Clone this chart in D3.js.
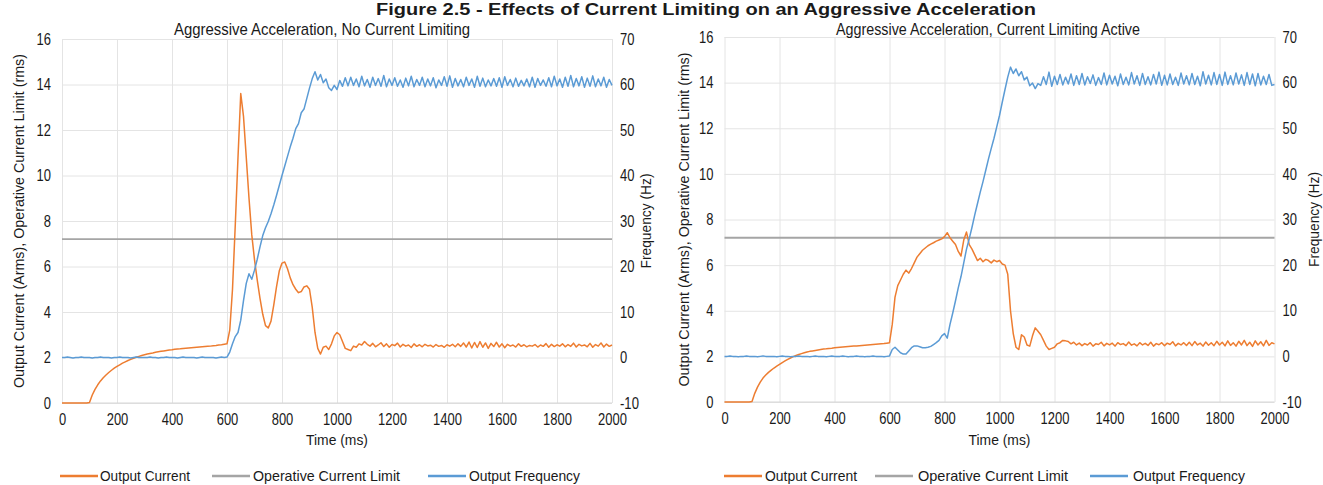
<!DOCTYPE html>
<html><head><meta charset="utf-8">
<script src="https://cdn.jsdelivr.net/npm/d3@7"></script>
<style>
body{margin:0;background:#fff;}
svg text{font-family:"Liberation Sans",Arial,sans-serif;fill:#1a1a1a;}
</style></head><body>
<svg id="chart" width="1323" height="485"></svg>
<script>
// ---------- DATA ----------
const figureTitle = "Figure 2.5 - Effects of Current Limiting on an Aggressive Acceleration";
const panelTitles = ["Aggressive Acceleration, No Current Limiting", "Aggressive Acceleration, Current Limiting Active"];
const seriesNames = ["Output Current", "Operative Current Limit", "Output Frequency"];
const xAxisTitle = "Time (ms)";
const leftAxisTitle = "Output Current (Arms), Operative Current Limit (rms)";
const rightAxisTitle = "Frequency (Hz)";
const timeTicks = [0, 200, 400, 600, 800, 1000, 1200, 1400, 1600, 1800, 2000];
const currentTicks = [0, 2, 4, 6, 8, 10, 12, 14, 16];
const freqTicks = [-10, 0, 10, 20, 30, 40, 50, 60, 70];

const timeMs = [0,10,20,30,40,50,60,70,80,90,100,110,120,130,140,150,160,170,180,190,200,210,220,230,240,250,260,270,280,290,300,310,320,330,340,350,360,370,380,390,400,410,420,430,440,450,460,470,480,490,500,510,520,530,540,550,560,570,580,590,600,610,620,630,640,650,660,670,680,690,700,710,720,730,740,750,760,770,780,790,800,810,820,830,840,850,860,870,880,890,900,910,920,930,940,950,960,970,980,990,1000,1010,1020,1030,1040,1050,1060,1070,1080,1090,1100,1110,1120,1130,1140,1150,1160,1170,1180,1190,1200,1210,1220,1230,1240,1250,1260,1270,1280,1290,1300,1310,1320,1330,1340,1350,1360,1370,1380,1390,1400,1410,1420,1430,1440,1450,1460,1470,1480,1490,1500,1510,1520,1530,1540,1550,1560,1570,1580,1590,1600,1610,1620,1630,1640,1650,1660,1670,1680,1690,1700,1710,1720,1730,1740,1750,1760,1770,1780,1790,1800,1810,1820,1830,1840,1850,1860,1870,1880,1890,1900,1910,1920,1930,1940,1950,1960,1970,1980,1990,2000];

// Panel 1: no current limiting
const noLimitCurrent = [
0,0,0,0,0,0,0,0,0,0,
0.02,0.35,0.6,0.8,0.97,1.11,1.23,1.34,1.44,1.53,
1.61,1.68,1.75,1.81,1.87,1.92,1.97,2.01,2.05,2.09,
2.12,2.15,2.18,2.2,2.23,2.25,2.27,2.29,2.31,2.33,
2.34,2.36,2.37,2.38,2.4,2.41,2.42,2.43,2.44,2.45,
2.46,2.47,2.48,2.49,2.5,2.52,2.53,2.55,2.56,2.58,
2.6,3.2,5.0,7.8,10.8,13.6,12.6,10.8,9.0,7.4,
6.3,5.4,4.6,3.9,3.4,3.3,3.6,4.3,5.1,5.8,
6.15,6.2,5.9,5.5,5.2,5.0,4.85,4.9,5.1,5.15,
5.0,4.2,3.1,2.4,2.15,2.45,2.5,2.35,2.6,2.95,
3.1,3.0,2.7,2.4,2.35,2.3,2.5,2.45,2.6,2.55,
2.7,2.58,2.5,2.62,2.47,2.55,2.65,2.48,2.6,2.45,
2.57,2.52,2.63,2.46,2.58,2.5,2.55,2.44,2.6,2.49,
2.56,2.47,2.58,2.51,2.54,2.46,2.57,2.49,2.53,2.45,
2.56,2.5,2.58,2.47,2.6,2.49,2.64,2.46,2.68,2.42,
2.66,2.44,2.7,2.45,2.64,2.4,2.62,2.48,2.67,2.46,
2.6,2.43,2.58,2.5,2.55,2.46,2.6,2.49,2.56,2.47,
2.53,2.5,2.57,2.46,2.55,2.49,2.61,2.45,2.58,2.48,
2.56,2.5,2.6,2.47,2.57,2.49,2.63,2.46,2.58,2.51,
2.55,2.47,2.62,2.45,2.57,2.5,2.64,2.46,2.59,2.49,
2.55];
const noLimitFreq = [
0,0,0.1,0,-0.1,0,0,0.1,0,0,
0,-0.1,0,0,0.1,0,0,0,-0.1,0,
0,0.1,0,0,0,-0.1,0,0.1,0,0,
0,0,0.1,0,0,-0.1,0,0,0.1,0,
0,0,-0.1,0,0.1,0,0,0,0,-0.1,
0,0.1,0,0,0,0,-0.1,0,0.1,0,
0.1,1.2,3.0,4.6,5.5,8.2,12.5,16.3,18.4,17.2,
19.2,21.6,24.3,26.8,28.5,29.9,31.6,33.5,35.6,37.8,
40.0,42.1,44.2,46.3,48.2,50.3,51.4,53.8,54.6,56.9,
59.2,61.3,62.8,61.0,62.2,60.4,61.2,59.3,58.7,59.8,
58.9,60.9,59.6,61.5,59.7,61.6,59.8,61.2,59.5,61.8,
59.7,61.1,59.4,61.6,59.8,61.3,59.6,62.0,59.5,61.2,
59.8,61.5,59.6,61.0,59.4,61.4,59.7,61.8,59.5,61.1,
59.8,61.6,59.5,61.2,59.7,61.5,59.3,61.0,59.8,61.7,
59.6,61.9,59.4,61.3,59.7,61.1,59.5,61.6,59.8,61.2,
59.4,61.8,59.6,61.4,59.5,61.0,59.7,61.3,59.6,61.5,
59.4,61.7,59.8,61.1,59.5,61.4,59.6,60.9,59.7,61.2,
59.5,61.6,59.4,61.3,59.8,61.0,59.6,61.5,59.5,61.8,
59.7,61.2,59.4,61.6,59.6,62.0,59.5,61.3,59.7,61.7,
59.4,61.4,59.6,61.9,59.5,61.2,59.7,61.6,59.4,61.1,
59.8];

// Panel 2: current limiting active
const limitCurrent = [
0,0,0,0,0,0,0,0,0,0,
0.02,0.38,0.65,0.87,1.05,1.18,1.3,1.4,1.49,1.57,
1.65,1.73,1.8,1.87,1.93,1.99,2.04,2.08,2.12,2.16,
2.19,2.22,2.24,2.26,2.28,2.3,2.32,2.33,2.35,2.36,
2.38,2.39,2.4,2.41,2.42,2.43,2.44,2.45,2.46,2.47,
2.48,2.49,2.5,2.51,2.52,2.53,2.54,2.55,2.56,2.58,
2.6,3.4,4.6,5.1,5.35,5.6,5.78,5.65,5.85,6.1,
6.35,6.5,6.65,6.75,6.85,6.92,6.98,7.05,7.1,7.15,
7.25,7.42,7.2,7.05,6.9,6.6,6.4,7.1,7.45,6.9,
6.7,6.45,6.2,6.3,6.15,6.25,6.2,6.1,6.22,6.15,
6.2,6.05,6.0,5.6,4.0,3.0,2.4,2.3,2.95,2.85,
2.5,2.45,2.9,3.25,3.1,2.95,2.7,2.45,2.3,2.35,
2.4,2.55,2.6,2.7,2.68,2.65,2.55,2.62,2.5,2.58,
2.47,2.56,2.5,2.6,2.45,2.55,2.52,2.62,2.46,2.57,
2.5,2.58,2.45,2.6,2.52,2.56,2.47,2.63,2.49,2.55,
2.46,2.6,2.5,2.57,2.48,2.62,2.45,2.56,2.51,2.6,
2.47,2.58,2.52,2.64,2.46,2.57,2.5,2.6,2.48,2.62,
2.47,2.65,2.5,2.58,2.45,2.63,2.49,2.6,2.47,2.66,
2.5,2.62,2.46,2.68,2.48,2.6,2.45,2.66,2.5,2.7,
2.47,2.62,2.44,2.68,2.5,2.64,2.46,2.7,2.48,2.6,
2.55];
const limitFreq = [
0,0,0.1,0,0,-0.1,0,0,0.1,0,
0,0,-0.1,0,0.1,0,0,0,0,-0.1,
0,0.1,0,0,-0.1,0,0,0.1,0,0,
0,-0.1,0,0.1,0,0,0,-0.1,0,0.1,
0,0,0,0.1,0,-0.1,0,0,0.1,0,
0,-0.1,0,0,0.1,0,0,0,-0.1,0,
0.1,1.5,2.0,1.4,0.8,0.5,0.5,1.2,1.9,2.3,
2.3,2.1,1.9,1.9,2.0,2.2,2.6,3.0,3.5,4.5,
5.0,4.0,7.0,9.5,12.2,15.0,17.5,20.5,23.5,25.8,
28.3,31.0,33.5,36.0,38.3,40.8,43.3,45.6,47.8,50.3,
52.8,55.7,58.5,61.2,63.4,62.0,63.0,61.5,62.4,60.6,
61.2,59.3,59.9,58.7,59.8,59.4,61.3,59.6,62.3,59.2,
61.4,59.6,61.8,59.5,61.2,59.7,61.9,59.4,61.5,59.6,
62.0,59.5,61.3,59.8,61.7,59.4,61.1,59.6,62.1,59.5,
61.6,59.7,61.4,59.3,61.9,59.6,61.2,59.5,62.2,59.7,
61.5,59.4,62.0,59.6,61.3,59.5,61.8,59.7,62.3,59.4,
61.6,59.5,61.9,59.6,61.2,59.4,62.1,59.7,61.5,59.5,
62.0,59.6,61.4,59.3,62.4,59.7,61.6,59.5,62.2,59.6,
61.8,59.4,62.3,59.6,61.5,59.5,62.1,59.7,61.7,59.4,
62.2,59.6,61.9,59.3,62.0,59.5,61.4,59.6,61.8,59.4,
59.6];

const limitTimes = [0, 2000];
const limitValues = [7.2, 7.2];

// ---------- STYLE / LAYOUT ----------
const colors = { current: "#ED7D31", limit: "#A5A5A5", freq: "#5B9BD5", grid: "#E4E4E4" };
const panels = [
  { x0: 62, x1: 612, yTop: 39, yBot: 403, current: noLimitCurrent, freq: noLimitFreq, title: panelTitles[0],
    titleX: 322, titleLen: 296, leftLabelX: 19, rightLabelX: 646,
    legend: [[60, 98, 100, 90], [212, 250, 253, 147], [428, 466, 469, 111]] },
  { x0: 724.5, x1: 1274.5, yTop: 37, yBot: 402, current: limitCurrent, freq: limitFreq, title: panelTitles[1],
    titleX: 988, titleLen: 304, leftLabelX: 684, rightLabelX: 1314,
    legend: [[724, 762, 765, 92], [875, 913, 918, 150], [1090, 1128, 1133, 112]] }
];

// width of a condensed tick label: digits ~7px, minus sign ~4.5px
const tickLen = s => String(s).split("").reduce((a, c) => a + (c === "-" ? 4.5 : 7.2), 0);

const svg = d3.select("#chart");

svg.append("text").attr("x", 706).attr("y", 15).attr("text-anchor", "middle")
  .attr("font-size", 16).attr("font-weight", "bold")
  .attr("textLength", 660).attr("lengthAdjust", "spacingAndGlyphs")
  .text(figureTitle);

panels.forEach(p => {
  const g = svg.append("g");
  const x = d3.scaleLinear().domain([0, 2000]).range([p.x0, p.x1]);
  const yL = d3.scaleLinear().domain([0, 16]).range([p.yBot, p.yTop]);
  const yR = d3.scaleLinear().domain([-10, 70]).range([p.yBot, p.yTop]);

  // gridlines
  g.append("g").attr("transform", `translate(0,${p.yBot})`)
    .call(d3.axisBottom(x).tickValues(timeTicks).tickSize(-(p.yBot - p.yTop)).tickFormat(""))
    .call(s => s.select(".domain").remove())
    .call(s => s.selectAll("line").attr("stroke", colors.grid));
  g.append("g").attr("transform", `translate(${p.x0},0)`)
    .call(d3.axisLeft(yL).tickValues(currentTicks).tickSize(-(p.x1 - p.x0)).tickFormat(""))
    .call(s => s.select(".domain").remove())
    .call(s => s.selectAll("line").attr("stroke", colors.grid));
  g.append("line").attr("x1", p.x0).attr("x2", p.x1).attr("y1", p.yBot).attr("y2", p.yBot)
    .attr("stroke", "#D6D6D6");

  // axes labels
  const fmt = d => String(d);
  const ax = g.append("g").attr("transform", `translate(0,${p.yBot})`)
    .call(d3.axisBottom(x).tickValues(timeTicks).tickFormat(fmt).tickSize(0).tickPadding(11));
  const ayl = g.append("g").attr("transform", `translate(${p.x0},0)`)
    .call(d3.axisLeft(yL).tickValues(currentTicks).tickFormat(fmt).tickSize(0).tickPadding(11));
  const ayr = g.append("g").attr("transform", `translate(${p.x1},0)`)
    .call(d3.axisRight(yR).tickValues(freqTicks).tickFormat(fmt).tickSize(0).tickPadding(8));
  [ax, ayl, ayr].forEach(a => {
    a.select(".domain").remove();
    a.selectAll("text").attr("font-size", 16).attr("fill", "#1a1a1a")
      .style("font-family", '"Liberation Sans",Arial,sans-serif')
      .attr("textLength", function () { return tickLen(this.textContent); })
      .attr("lengthAdjust", "spacingAndGlyphs");
  });

  // series
  const lineL = d3.line().x(d => x(d[0])).y(d => yL(d[1]));
  const lineR = d3.line().x(d => x(d[0])).y(d => yR(d[1]));
  g.append("path").datum(limitTimes.map((t, i) => [t, limitValues[i]]))
    .attr("d", lineL).attr("fill", "none").attr("stroke", colors.limit).attr("stroke-width", 1.8);
  g.append("path").datum(timeMs.map((t, i) => [t, p.current[i]]))
    .attr("d", lineL).attr("fill", "none").attr("stroke", colors.current).attr("stroke-width", 1.5)
    .attr("stroke-linejoin", "round");
  g.append("path").datum(timeMs.map((t, i) => [t, p.freq[i]]))
    .attr("d", lineR).attr("fill", "none").attr("stroke", colors.freq).attr("stroke-width", 1.5)
    .attr("stroke-linejoin", "round");

  // titles
  g.append("text").attr("x", p.titleX).attr("y", 35).attr("text-anchor", "middle")
    .attr("font-size", 17).attr("textLength", p.titleLen).attr("lengthAdjust", "spacingAndGlyphs")
    .text(p.title);
  g.append("text").attr("x", (p.x0 + p.x1) / 2).attr("y", 445).attr("text-anchor", "middle")
    .attr("font-size", 15).attr("textLength", 62).attr("lengthAdjust", "spacingAndGlyphs")
    .text(xAxisTitle);
  const midY = (p.yTop + p.yBot) / 2;
  g.append("text").attr("transform", `translate(${p.leftLabelX},${midY}) rotate(-90)`)
    .attr("text-anchor", "middle").attr("dy", "0.35em").attr("font-size", 15)
    .attr("textLength", 334).attr("lengthAdjust", "spacingAndGlyphs")
    .text(leftAxisTitle);
  g.append("text").attr("transform", `translate(${p.rightLabelX},${midY}) rotate(-90)`)
    .attr("text-anchor", "middle").attr("dy", "0.35em").attr("font-size", 15)
    .attr("textLength", 95).attr("lengthAdjust", "spacingAndGlyphs")
    .text(rightAxisTitle);

  // legend
  const legColors = [colors.current, colors.limit, colors.freq];
  p.legend.forEach((L, i) => {
    g.append("line").attr("x1", L[0]).attr("x2", L[1]).attr("y1", 476).attr("y2", 476)
      .attr("stroke", legColors[i]).attr("stroke-width", 2.5);
    g.append("text").attr("x", L[2]).attr("y", 481).attr("font-size", 15)
      .attr("textLength", L[3]).attr("lengthAdjust", "spacingAndGlyphs")
      .text(seriesNames[i]);
  });
});
</script>
</body></html>
